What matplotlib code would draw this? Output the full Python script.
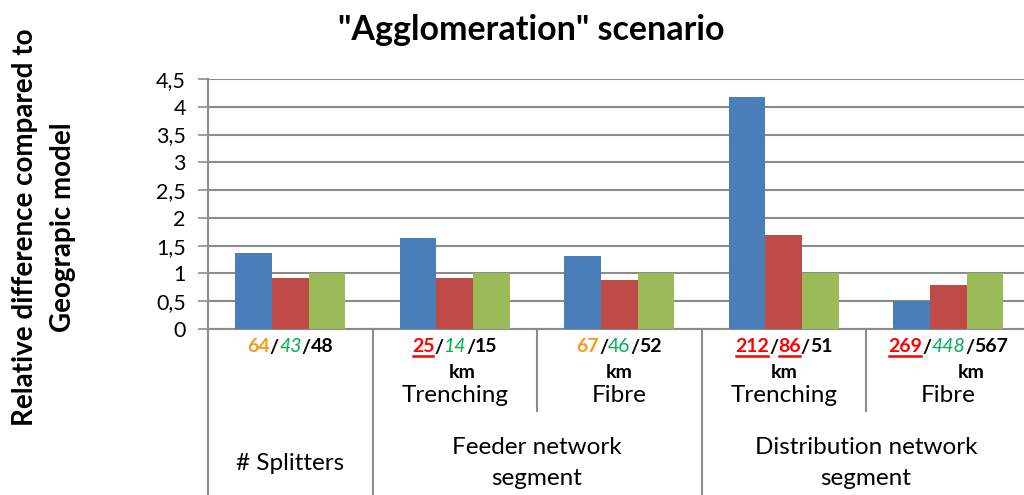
import numpy as np
import matplotlib
matplotlib.use("Agg")
import matplotlib.pyplot as plt
from matplotlib.lines import Line2D

plt.rcParams["font.family"] = ["Lato", "DejaVu Sans"]

# data
categories = ["Trenching", "Fibre", "Trenching", "Fibre"]
groups = ["# Splitters", "Feeder network\nsegment", "Distribution network\nsegment"]
blue_vals = [1.36, 1.63, 1.32, 4.17, 0.50]
red_vals = [0.91, 0.91, 0.88, 1.69, 0.80]
green_vals = [1.0, 1.0, 1.0, 1.0, 1.0]
yticks = [0, 0.5, 1, 1.5, 2, 2.5, 3, 3.5, 4, 4.5]
ytick_labels = ["0", "0,5", "1", "1,5", "2", "2,5", "3", "3,5", "4", "4,5"]

ORANGE = "#F79A1E"
GREEN_T = "#00B050"
RED_T = "#FF0000"
BLACK = "#000000"

# (text, color, italic, bold, underline)
count_labels = [
    [("64", ORANGE, False, True, False), ("/", BLACK, False, True, False),
     ("43", GREEN_T, True, False, False), ("/", BLACK, False, True, False),
     ("48", BLACK, False, True, False)],
    [("25", RED_T, False, True, True), ("/", BLACK, False, True, False),
     ("14", GREEN_T, True, False, False), ("/", BLACK, False, True, False),
     ("15", BLACK, False, True, False)],
    [("67", ORANGE, False, True, False), ("/", BLACK, False, True, False),
     ("46", GREEN_T, False, False, False), ("/", BLACK, False, True, False),
     ("52", BLACK, False, True, False)],
    [("212", RED_T, False, True, True), ("/", BLACK, False, True, False),
     ("86", RED_T, False, True, True), ("/", BLACK, False, True, False),
     ("51", BLACK, False, True, False)],
    [("269", RED_T, False, True, True), ("/", BLACK, False, True, False),
     ("448", GREEN_T, True, False, False), ("/", BLACK, False, True, False),
     ("567", BLACK, False, True, False)],
]
km_shift = [None, 7, 0, 0, 23]  # pixel shift of the "km" line, None = no unit

W, H = 1024, 495
fig = plt.figure(figsize=(W / 100, H / 100), dpi=100)
x0, x1, ybase, ytop = 208, 1024, 329, 79
ax = fig.add_axes([x0 / W, 1 - ybase / H, (x1 - x0) / W, (ybase - ytop) / H])

cat_px = 164.5
n = len(blue_vals)
x = np.arange(n) + 0.5
bw = 36.7 / cat_px
ax.bar(x - bw, blue_vals, bw, color="#4A7EBB", zorder=3)
ax.bar(x, red_vals, bw, color="#BE4B48", zorder=3)
ax.bar(x + bw, green_vals, bw, color="#9BBB59", zorder=3)

ax.set_xlim(0, (x1 - x0) / cat_px)
ax.set_ylim(0, 4.5)
ax.set_yticks(yticks)
ax.set_yticklabels(ytick_labels, fontsize=15.5)
ax.yaxis.grid(True, color="#8C8C8C", linewidth=1.5, zorder=0)
ax.tick_params(axis="y", length=7, width=1.2, color="#8C8C8C", pad=9)
ax.set_xticks([])
for s in ["top", "right"]:
    ax.spines[s].set_visible(False)
ax.spines["left"].set_color("#8C8C8C")
ax.spines["left"].set_linewidth(1.5)
ax.spines["bottom"].set_color("#8C8C8C")
ax.spines["bottom"].set_linewidth(1.5)

fig.text(531 / W, 1 - 30 / H, '"Agglomeration" scenario', ha="center", va="center",
         fontsize=24.5, fontweight="bold")
fig.text(44 / W, 1 - 227 / H, "Relative difference compared to\nGeograpic model",
         rotation=90, ha="center", va="center", multialignment="center",
         fontsize=20, fontweight="bold", linespacing=1.55)

# category table under the axis
xt = ax.get_xaxis_transform()
full = [0, 1, 3]
part = [2, 4]
for b in full:
    ax.plot([b, b], [0, -0.664], transform=xt, clip_on=False, color="#8C8C8C", lw=1.5)
for b in part:
    ax.plot([b, b], [0, -0.328], transform=xt, clip_on=False, color="#8C8C8C", lw=1.5)


def ypos(py):
    return (ybase - py) / (ybase - ytop)


renderer = fig.canvas.get_renderer()


def rich_label(xc, py, parts, fs=14):
    texts, widths = [], []
    for s, c, it, bd, ul in parts:
        t = fig.text(0, 1 - py / H, s, color=c, fontsize=fs, ha="left", va="center",
                     fontstyle="italic" if it else "normal",
                     fontweight="bold" if bd else "normal")
        texts.append(t)
        widths.append(t.get_window_extent(renderer).width)
    cx = ax.transData.transform((xc, 0))[0]
    left = cx - sum(widths) / 2
    for t, w, p in zip(texts, widths, parts):
        t.set_x(left / W)
        if p[4]:
            fig.add_artist(Line2D([(left + 1) / W, (left + w - 1) / W],
                                  [1 - (py + 9) / H] * 2, color=p[1], lw=1.8))
        left += w


for i in range(n):
    rich_label(x[i], 347, count_labels[i])
    if km_shift[i] is not None:
        cx = ax.transData.transform((x[i], 0))[0] + km_shift[i]
        fig.text(cx / W, 1 - 373 / H, "km", ha="center", va="center",
                 fontsize=14, fontweight="bold")
for i, c in enumerate(categories):
    ax.text(x[i + 1], ypos(396), c, transform=xt, ha="center", va="center", fontsize=17.5)

group_x = [0.5, 2.0, 4.0]
for gx, g in zip(group_x, groups):
    ax.text(gx, ypos(463), g, transform=xt, ha="center", va="center", fontsize=17.5,
            linespacing=1.55)

fig.savefig("out.png", dpi=100)
